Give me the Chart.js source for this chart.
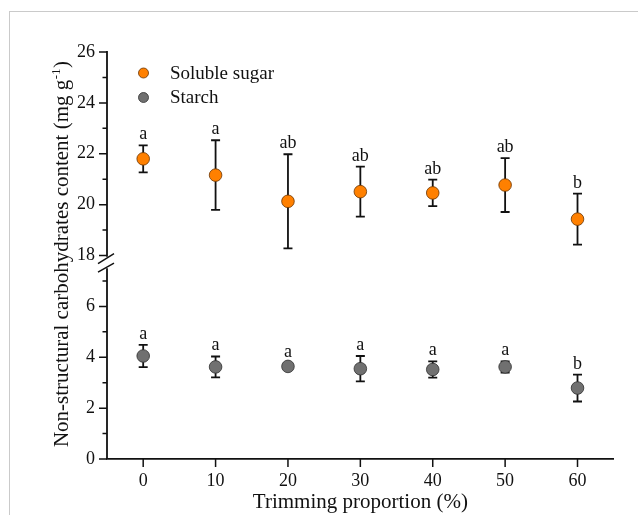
<!DOCTYPE html>
<html><head><meta charset="utf-8">
<script src="https://cdn.jsdelivr.net/npm/chart.js@4.4.1/dist/chart.umd.min.js"></script>
<style>
html,body{margin:0;padding:0;background:#fff;}
#wrap{position:relative;width:638px;height:515px;overflow:hidden;background:#fff;}
#frame{position:absolute;left:9px;top:11px;width:640px;height:520px;border-top:1px solid #cacaca;border-left:1px solid #cacaca;}
#c{position:absolute;left:0;top:0;}
</style></head><body>
<div id="wrap"><div id="frame"></div><canvas id="c" width="638" height="515"></canvas></div>
<script>
// ---- data ----
const trimming = [0, 10, 20, 30, 40, 50, 60];
const sugarMean = [21.80, 21.16, 20.13, 20.51, 20.46, 20.77, 19.43];
const sugarErr = [0.53, 1.37, 1.85, 0.98, 0.52, 1.06, 1.00];
const sugarLetters = ['a', 'a', 'ab', 'ab', 'ab', 'ab', 'b'];
const starchMean = [4.05, 3.62, 3.64, 3.55, 3.52, 3.62, 2.79];
const starchErr = [0.44, 0.41, 0.12, 0.50, 0.32, 0.22, 0.53];
const starchLetters = ['a', 'a', 'a', 'a', 'a', 'a', 'b'];
const seriesNames = ['Soluble sugar', 'Starch'];
const xTicks = [0, 10, 20, 30, 40, 50, 60];
const yTopTicks = [18, 19, 20, 21, 22, 23, 24, 25, 26];
const yBotTicks = [0, 1, 2, 3, 4, 5, 6, 7];
const xTitle = 'Trimming proportion (%)';
const yTitleMain = 'Non-structural carbohydrates content (mg g';
const yTitleSup = '-1';
const yTitleEnd = ')';

const SERIF = "'Liberation Serif', 'Times New Roman', serif";
const colors = ['#FF8000', '#707070'];
const borders = ['#6a3300', '#303030'];

const decor = {
  id: 'decor',
  beforeDatasetsDraw(chart) {
    const ctx = chart.ctx, xs = chart.scales.x;
    ctx.save();
    ctx.strokeStyle = '#111';
    ctx.lineWidth = 1.8;
    [[sugarMean, sugarErr, 'yTop'], [starchMean, starchErr, 'yBot']].forEach(([m, e, id]) => {
      const ys = chart.scales[id];
      trimming.forEach((t, i) => {
        const x = xs.getPixelForValue(t);
        const y1 = ys.getPixelForValue(m[i] + e[i]);
        const y2 = ys.getPixelForValue(m[i] - e[i]);
        ctx.beginPath();
        ctx.moveTo(x, y1); ctx.lineTo(x, y2);
        ctx.moveTo(x - 4.5, y1); ctx.lineTo(x + 4.5, y1);
        ctx.moveTo(x - 4.5, y2); ctx.lineTo(x + 4.5, y2);
        ctx.stroke();
      });
    });
    ctx.restore();
  },
  afterDatasetsDraw(chart) {
    const ctx = chart.ctx, xs = chart.scales.x, yt = chart.scales.yTop, yb = chart.scales.yBot;
    const area = chart.chartArea;
    ctx.save();
    // significance letters
    ctx.fillStyle = '#111';
    ctx.font = '18px ' + SERIF;
    ctx.textAlign = 'center';
    ctx.textBaseline = 'alphabetic';
    [[sugarMean, sugarErr, sugarLetters, yt], [starchMean, starchErr, starchLetters, yb]].forEach(([m, e, L, ys]) => {
      trimming.forEach((t, i) => {
        ctx.fillText(L[i], xs.getPixelForValue(t), ys.getPixelForValue(m[i] + e[i]) - 6);
      });
    });
    // legend
    ctx.font = '19px ' + SERIF;
    ctx.textAlign = 'left';
    ctx.textBaseline = 'middle';
    seriesNames.forEach((n, i) => {
      const y = 73 + i * 24.5;
      ctx.beginPath();
      ctx.arc(143.5, y, 5, 0, Math.PI * 2);
      ctx.fillStyle = colors[i]; ctx.fill();
      ctx.lineWidth = 0.8; ctx.strokeStyle = borders[i]; ctx.stroke();
      ctx.fillStyle = '#111';
      ctx.fillText(n, 170, y + 1);
    });
    // y axis lines with break
    const ax = area.left;
    ctx.strokeStyle = '#111';
    ctx.lineWidth = 1.8;
    ctx.beginPath();
    ctx.moveTo(ax, yt.getPixelForValue(26) - 0.9);
    ctx.lineTo(ax, yt.getPixelForValue(17.95));
    ctx.moveTo(ax, yb.getPixelForValue(7.5));
    ctx.lineTo(ax, yb.getPixelForValue(0));
    ctx.stroke();
    const brk = yt.bottom;
    ctx.lineWidth = 1.5;
    ctx.beginPath();
    ctx.moveTo(ax - 9, brk - 4.5); ctx.lineTo(ax + 7, brk - 14.5);
    ctx.moveTo(ax - 9, brk + 4); ctx.lineTo(ax + 7, brk - 5);
    ctx.stroke();
    // y ticks (major even, minor odd)
    ctx.lineWidth = 1.5;
    ctx.beginPath();
    [[yTopTicks, yt], [yBotTicks, yb]].forEach(([T, ys]) => {
      T.forEach(v => {
        const y = ys.getPixelForValue(v);
        const len = v % 2 === 0 ? 8 : 4.5;
        ctx.moveTo(ax - len, y); ctx.lineTo(ax, y);
      });
    });
    // x ticks
    xTicks.forEach(v => {
      const x = xs.getPixelForValue(v);
      ctx.moveTo(x, area.bottom); ctx.lineTo(x, area.bottom + 8);
    });
    ctx.stroke();
    // x title
    ctx.fillStyle = '#111';
    ctx.font = '21px ' + SERIF;
    ctx.textAlign = 'center';
    ctx.textBaseline = 'alphabetic';
    ctx.fillText(xTitle, (area.left + area.right) / 2, 508);
    // y title (rotated, with superscript)
    const mainFont = '21px ' + SERIF, supFont = '13px ' + SERIF;
    ctx.font = mainFont; const w1 = ctx.measureText(yTitleMain).width; const w3 = ctx.measureText(yTitleEnd).width;
    ctx.font = supFont; const w2 = ctx.measureText(yTitleSup).width;
    const total = w1 + w2 + w3 + 1;
    ctx.translate(68, 254);
    ctx.rotate(-Math.PI / 2);
    ctx.textAlign = 'left';
    let x0 = -total / 2;
    ctx.font = mainFont; ctx.fillText(yTitleMain, x0, 0);
    ctx.font = supFont; ctx.fillText(yTitleSup, x0 + w1 + 0.5, -8);
    ctx.font = mainFont; ctx.fillText(yTitleEnd, x0 + w1 + w2 + 1, 0);
    ctx.restore();
  }
};

const tickFont = { family: SERIF, size: 18 };

new Chart(document.getElementById('c'), {
  type: 'scatter',
  data: {
    datasets: [
      {
        label: seriesNames[0],
        data: trimming.map((t, i) => ({ x: t, y: sugarMean[i] })),
        yAxisID: 'yTop',
        pointRadius: 6.3,
        pointHoverRadius: 6.3,
        backgroundColor: colors[0],
        borderColor: borders[0],
        borderWidth: 0.8
      },
      {
        label: seriesNames[1],
        data: trimming.map((t, i) => ({ x: t, y: starchMean[i] })),
        yAxisID: 'yBot',
        pointRadius: 6.3,
        pointHoverRadius: 6.3,
        backgroundColor: colors[1],
        borderColor: borders[1],
        borderWidth: 0.8
      }
    ]
  },
  options: {
    responsive: false,
    animation: false,
    events: [],
    layout: { padding: { left: 0, top: 52, right: 24.3, bottom: 0 } },
    plugins: { legend: { display: false }, tooltip: { enabled: false } },
    scales: {
      x: {
        type: 'linear', position: 'bottom', min: -5, max: 65,
        afterBuildTicks: s => { s.ticks = xTicks.map(v => ({ value: v })); },
        afterFit: s => { s.height = 56; },
        ticks: { font: tickFont, color: '#111', padding: 3, maxRotation: 0 },
        grid: { display: false, drawTicks: true, tickLength: 8 },
        border: { display: true, color: '#111', width: 1.8 }
      },
      yTop: {
        type: 'linear', position: 'left', stack: 'ybrk', stackWeight: 8.5, weight: 2,
        min: 17.5, max: 26,
        afterBuildTicks: s => { s.ticks = yTopTicks.map(v => ({ value: v })); },
        afterFit: s => { s.width = 107; },
        ticks: { font: tickFont, color: '#111', padding: 4, callback: v => (v % 2 === 0 ? String(v) : '') },
        grid: { display: false, drawTicks: true, tickLength: 8 },
        border: { display: false }
      },
      yBot: {
        type: 'linear', position: 'left', stack: 'ybrk', stackWeight: 7.5, weight: 1,
        min: 0, max: 7.5,
        afterBuildTicks: s => { s.ticks = yBotTicks.map(v => ({ value: v })); },
        afterFit: s => { s.width = 107; },
        ticks: { font: tickFont, color: '#111', padding: 4, callback: v => (v % 2 === 0 ? String(v) : '') },
        grid: { display: false, drawTicks: true, tickLength: 8 },
        border: { display: false }
      }
    }
  },
  plugins: [decor]
});
</script>
</body></html>
